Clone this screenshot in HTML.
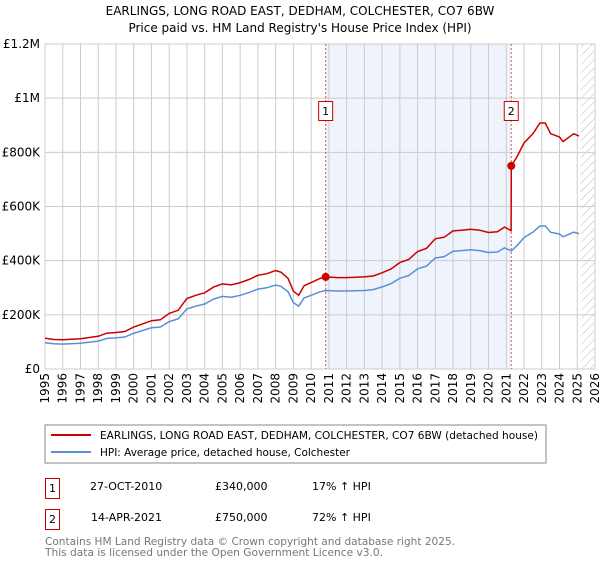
<!DOCTYPE html>
<html><head><meta charset="utf-8"><style>
body{margin:0;background:#fff;}
svg{font-family:"DejaVu Sans","Liberation Sans",sans-serif;}
</style></head><body>
<svg id="chart" width="600" height="560" viewBox="0 0 600 560">
<defs><pattern id="hatch" width="6" height="6" patternUnits="userSpaceOnUse" patternTransform="rotate(45)"><line x1="0" y1="0" x2="0" y2="6" stroke="#bbb" stroke-width="1"/></pattern></defs>
<text x="300" y="15" text-anchor="middle" font-size="12">EARLINGS, LONG ROAD EAST, DEDHAM, COLCHESTER, CO7 6BW</text>
<text x="300" y="32" text-anchor="middle" font-size="12">Price paid vs. HM Land Registry's House Price Index (HPI)</text>
<g id="grid"></g>
<g id="marks"></g>
<g id="axes"></g>
<rect x="45" y="425" width="501" height="38" fill="#fff" stroke="#888"/>
<line x1="51" y1="435" x2="91" y2="435" stroke="#cc0000" stroke-width="2"/>
<text x="100" y="439" font-size="11" textLength="438" lengthAdjust="spacingAndGlyphs">EARLINGS, LONG ROAD EAST, DEDHAM, COLCHESTER, CO7 6BW (detached house)</text>
<line x1="51" y1="452" x2="91" y2="452" stroke="#5b8fd6" stroke-width="2"/>
<text x="100" y="456" font-size="11" textLength="250" lengthAdjust="spacingAndGlyphs">HPI: Average price, detached house, Colchester</text>
<g>
<rect x="45.5" y="478.5" width="14" height="20" fill="#fff" stroke="#cc0000"/>
<text x="52.5" y="492" text-anchor="middle" font-size="11">1</text>
<text x="90" y="490" font-size="11">27-OCT-2010</text>
<text x="215" y="490" font-size="11">£340,000</text>
<text x="312" y="490" font-size="11">17% ↑ HPI</text>
</g>
<g>
<rect x="45.5" y="509.5" width="14" height="20" fill="#fff" stroke="#cc0000"/>
<text x="52.5" y="523" text-anchor="middle" font-size="11">2</text>
<text x="91" y="521" font-size="11">14-APR-2021</text>
<text x="215" y="521" font-size="11">£750,000</text>
<text x="312" y="521" font-size="11">72% ↑ HPI</text>
</g>
<text x="45" y="545" font-size="11" fill="#777" textLength="410" lengthAdjust="spacingAndGlyphs">Contains HM Land Registry data © Crown copyright and database right 2025.</text>
<text x="45" y="556" font-size="11" fill="#777" textLength="338" lengthAdjust="spacingAndGlyphs">This data is licensed under the Open Government Licence v3.0.</text>
</svg>
<script>
const hpiYears=[1995,1995.5,1996,1997,1998,1998.5,1999,1999.5,2000,2000.5,2001,2001.5,2002,2002.5,2003,2003.5,2004,2004.5,2005,2005.5,2006,2006.5,2007,2007.5,2008,2008.3,2008.7,2009,2009.3,2009.6,2010,2010.5,2010.82,2011.5,2012,2013,2013.5,2014,2014.5,2015,2015.5,2016,2016.5,2017,2017.5,2018,2018.5,2019,2019.5,2020,2020.5,2020.9,2021.28,2021.6,2022,2022.5,2022.9,2023.2,2023.5,2024,2024.2,2024.8,2025.1];
const hpiValues=[97,93,92,95,103,113,115,118,132,142,152,155,175,185,222,232,240,258,268,265,272,282,295,300,310,305,285,245,232,262,272,285,290,288,288,290,293,303,315,335,345,370,380,410,415,435,437,440,437,430,432,447,436,455,485,505,528,528,505,498,488,505,500];
const saleYears=[2010.82,2021.28];
const salePrices=[340000,750000];
const yTicks=[0,200000,400000,600000,800000,1000000,1200000];
const yTickLabels=["£0","£200K","£400K","£600K","£800K","£1M","£1.2M"];
const xTicks=[1995,1996,1997,1998,1999,2000,2001,2002,2003,2004,2005,2006,2007,2008,2009,2010,2011,2012,2013,2014,2015,2016,2017,2018,2019,2020,2021,2022,2023,2024,2025,2026];
const NS="http://www.w3.org/2000/svg";
const L=45,R=595,T=44,B=369;
const x=v=>L+(v-1995)/(2026-1995)*(R-L);
const y=v=>B-v/1200000*(B-T);
function mk(tag,attrs,parent){const e=document.createElementNS(NS,tag);for(const k in attrs)e.setAttribute(k,attrs[k]);parent.appendChild(e);return e;}
const grid=document.getElementById('grid'),marks=document.getElementById('marks'),axes=document.getElementById('axes');
let sh=mk('rect',{x:x(saleYears[0]),y:T,width:x(saleYears[1])-x(saleYears[0]),height:B-T,fill:'#eef3fc'},grid);


let ht=mk('rect',{x:x(2025.2),y:T,width:R-x(2025.2),height:B-T,fill:'url(#hatch)'},grid);


xTicks.forEach(t=>{const g=mk('line',{x1:x(t),x2:x(t),y1:T,y2:B,stroke:'#ccc','stroke-width':1},grid);


const lb=mk('text',{x:0,y:0,'font-size':12,'text-anchor':'end',transform:`translate(${x(t)+4},373) rotate(-90)`},axes);lb.textContent=t;

});
yTicks.forEach((t,i)=>{const g=mk('line',{x1:L,x2:R,y1:y(t),y2:y(t),stroke:'#ccc','stroke-width':1},grid);


const lb=mk('text',{x:40,y:y(t)+4,'font-size':12,'text-anchor':'end'},axes);lb.textContent=yTickLabels[i];

});
saleYears.forEach((s,i)=>{const v=mk('line',{x1:x(s),x2:x(s),y1:T,y2:B,stroke:'#e05050','stroke-dasharray':'2,2','stroke-width':1},marks);

});
function hpiAt(t){for(let i=0;i<hpiYears.length-1;i++){if(t>=hpiYears[i]&&t<=hpiYears[i+1]){const f=(t-hpiYears[i])/(hpiYears[i+1]-hpiYears[i]);return hpiValues[i]+f*(hpiValues[i+1]-hpiValues[i]);}}return hpiValues[hpiValues.length-1];}
const hp=hpiYears.map((t,i)=>x(t).toFixed(1)+','+y(hpiValues[i]*1000).toFixed(1)).join(' ');
const hl=mk('polyline',{points:hp,fill:'none',stroke:'#5b8fd6','stroke-width':1.5},marks);


const r1=salePrices[0]/(hpiAt(saleYears[0])*1000),r2=salePrices[1]/(hpiAt(saleYears[1])*1000);
const pp=[];
hpiYears.forEach((t,i)=>{if(t<saleYears[1])pp.push([t,hpiValues[i]*1000*r1]);});
pp.push([saleYears[1]-0.01,hpiAt(saleYears[1])*1000*r1]);
pp.push([saleYears[1],salePrices[1]]);
hpiYears.forEach((t,i)=>{if(t>saleYears[1])pp.push([t,hpiValues[i]*1000*r2]);});
const pl=mk('polyline',{points:pp.map(p=>x(p[0]).toFixed(1)+','+y(p[1]).toFixed(1)).join(' '),fill:'none',stroke:'#cc0000','stroke-width':1.5},marks);


saleYears.forEach((s,i)=>{const c=mk('circle',{cx:x(s),cy:y(salePrices[i]),r:4,fill:'#cc0000'},marks);


const b=mk('rect',{x:x(s)-7,y:101.5,width:14,height:19,fill:'#fff',stroke:'#cc0000'},marks);


const tx=mk('text',{x:x(s),y:115,'font-size':11,'text-anchor':'middle'},marks);tx.textContent=i+1;

});
</script>
</body></html>
